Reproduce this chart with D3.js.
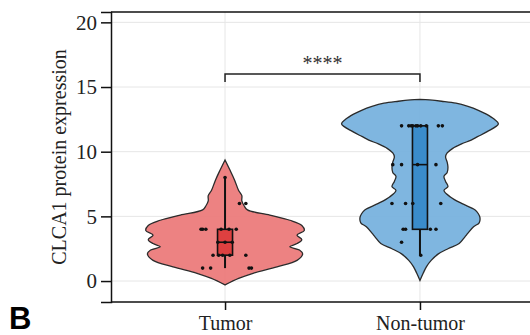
<!DOCTYPE html>
<html>
<head>
<meta charset="utf-8">
<script src="https://cdn.jsdelivr.net/npm/d3@7"></script>
<style>
  body { margin: 0; background: #fff; }
  svg { display: block; }
</style>
</head>
<body>
<script>
const width = 530, height = 335;

const groups = ["Tumor", "Non-tumor"];
const yTicks = [0, 5, 10, 15, 20];
const signif = "****";

// violin outlines: [value, relative density]
const tumorDensity = [
  [-0.3, 0], [0.2, 0.17], [0.6, 0.35], [1.1, 0.65], [1.6, 0.9], [2.1, 0.97],
  [2.4, 0.93], [2.65, 0.81], [2.9, 0.9], [3.2, 0.96], [3.55, 0.9], [3.9, 0.99],
  [4.3, 0.96], [4.7, 0.81], [5.1, 0.56], [5.5, 0.28], [5.8, 0.24], [6.2, 0.21],
  [6.6, 0.21], [7.0, 0.17], [7.8, 0.12], [8.6, 0.06], [9.36, 0]
];
const normalDensity = [
  [0.05, 0], [0.6, 0.04], [1.1, 0.08], [1.6, 0.14], [2.1, 0.23], [2.5, 0.35],
  [2.9, 0.49], [3.4, 0.56], [3.7, 0.6], [4.2, 0.67], [4.5, 0.74], [4.9, 0.75],
  [5.2, 0.73], [5.5, 0.69], [6.0, 0.52], [6.5, 0.38], [7.0, 0.3], [7.3, 0.35],
  [7.7, 0.32], [8.1, 0.3], [8.4, 0.34], [8.8, 0.35], [9.2, 0.34], [9.6, 0.32],
  [9.9, 0.34], [10.26, 0.41], [10.6, 0.52], [10.9, 0.64], [11.16, 0.72],
  [11.55, 0.84], [12.15, 0.98], [12.5, 0.93], [12.9, 0.83], [13.2, 0.73],
  [13.5, 0.6], [13.75, 0.45], [13.9, 0.27], [14.0, 0.12], [14.05, 0]
];

// box stats
const tumorBox = { lo: 1, q1: 2, med: 3, q3: 4, hi: 8 };
const normalBox = { lo: 2, q1: 4, med: 9, q3: 12, hi: 12 };

// jittered points: [value, offset in density units]
const tumorPoints = [
  [8, 0], [6, 0.18], [6, 0.26],
  [4, -0.3], [4, -0.28], [4, -0.24], [4, -0.05], [4, 0.05], [4, 0.14],
  [3, -0.09], [3, 0], [3, 0.09],
  [2, -0.15], [2, -0.08], [2, -0.03], [2, 0.06], [2, 0.26],
  [1, -0.28], [1, -0.18], [1, 0.3], [1, 0.33]
];
const normalPoints = [
  [12, -0.23], [12, -0.14], [12, -0.11], [12, -0.09], [12, -0.05], [12, -0.03],
  [12, 0.01], [12, 0.08], [12, 0.23], [12, 0.28],
  [9, -0.34], [9, -0.23], [9, -0.03], [9, 0.2],
  [6, -0.35], [6, -0.18], [6, -0.09], [6, 0.26],
  [4, -0.21], [4, -0.18], [4, 0.13], [4, 0.2],
  [3, -0.23], [2, 0.01]
];

const series = [
  { name: groups[0], density: tumorDensity, box: tumorBox, points: tumorPoints,
    fill: "#ec7777", boxFill: "#de4040" },
  { name: groups[1], density: normalDensity, box: normalBox, points: normalPoints,
    fill: "#74b0dd", boxFill: "#3a8ccb" }
];

const margin = { top: 12, right: -4, bottom: 33, left: 111 };

const x = d3.scalePoint()
  .domain(groups)
  .range([margin.left, width - margin.right])
  .padding(0.585);

const y = d3.scaleLinear()
  .domain([-1.62, 20.8])
  .range([height - margin.bottom, margin.top]);

const w = d3.scaleLinear().domain([0, 1]).range([0, 80]);

const svg = d3.select("body").append("svg")
  .attr("width", width)
  .attr("height", height)
  .attr("viewBox", [0, 0, width, height]);

const serif = "'Liberation Serif', 'Times New Roman', serif";

// grid
svg.append("g")
  .attr("stroke", "#e6e6e6")
  .attr("stroke-width", 1)
  .call(g => g.selectAll(".h").data(yTicks).join("line")
    .attr("x1", margin.left).attr("x2", width)
    .attr("y1", d => y(d)).attr("y2", d => y(d)))
  .call(g => g.selectAll(".v").data(groups).join("line")
    .attr("x1", d => x(d)).attr("x2", d => x(d))
    .attr("y1", margin.top).attr("y2", height - margin.bottom));

const area = d3.area()
  .curve(d3.curveCatmullRom.alpha(0.5))
  .y(d => y(d[0]));

series.forEach(s => {
  const cx = x(s.name);
  const g = svg.append("g");

  g.append("path")
    .datum(s.density)
    .attr("d", area.x0(d => cx - w(d[1])).x1(d => cx + w(d[1])))
    .attr("fill", s.fill)
    .attr("fill-opacity", 0.92)
    .attr("stroke", "#2b2b2b")
    .attr("stroke-width", 1.3);

  const bw = 15, b = s.box;
  g.append("line")
    .attr("x1", cx).attr("x2", cx)
    .attr("y1", y(b.lo)).attr("y2", y(b.hi))
    .attr("stroke", "#111").attr("stroke-width", 2);
  g.append("rect")
    .attr("x", cx - bw / 2).attr("width", bw)
    .attr("y", y(b.q3)).attr("height", y(b.q1) - y(b.q3))
    .attr("fill", s.boxFill)
    .attr("stroke", "#111").attr("stroke-width", 1.6);
  g.append("line")
    .attr("x1", cx - bw / 2).attr("x2", cx + bw / 2)
    .attr("y1", y(b.med)).attr("y2", y(b.med))
    .attr("stroke", "#111").attr("stroke-width", 1.6);

  g.selectAll("circle").data(s.points).join("circle")
    .attr("cx", d => cx + (d[1] < 0 ? -w(-d[1]) : w(d[1])))
    .attr("cy", d => y(d[0]))
    .attr("r", 1.8)
    .attr("fill", "#111");
});

// frame top line
svg.append("line")
  .attr("x1", margin.left).attr("x2", width)
  .attr("y1", margin.top).attr("y2", margin.top)
  .attr("stroke", "#111").attr("stroke-width", 1.5);

const yAxis = g => g
  .attr("transform", `translate(${margin.left},0)`)
  .call(d3.axisLeft(y).tickValues(yTicks).tickSize(10).tickSizeOuter(10).tickPadding(4))
  .call(g => g.selectAll("path, line").attr("stroke", "#111").attr("stroke-width", 1.5))
  .call(g => g.selectAll("text")
    .attr("font-family", serif).attr("font-size", 21).attr("fill", "#222"));

const xAxis = g => g
  .attr("transform", `translate(0,${height - margin.bottom})`)
  .call(d3.axisBottom(x).tickSize(8).tickSizeOuter(0).tickPadding(6))
  .call(g => g.select(".domain").attr("d", `M${margin.left},0H${width}`))
  .call(g => g.selectAll("path, line").attr("stroke", "#111").attr("stroke-width", 1.5))
  .call(g => g.selectAll("text")
    .attr("font-family", serif).attr("font-size", 20).attr("fill", "#222"));

svg.append("g").call(xAxis);
svg.append("g").call(yAxis);

svg.append("text")
  .attr("transform", `translate(66,157) rotate(-90)`)
  .attr("text-anchor", "middle")
  .attr("font-family", serif)
  .attr("font-size", 20)
  .attr("fill", "#222")
  .text("CLCA1 protein expression");

// significance bracket
const by = 74;
svg.append("path")
  .attr("d", `M${x(groups[0])},${by + 8}V${by}H${x(groups[1])}V${by + 8}`)
  .attr("fill", "none")
  .attr("stroke", "#222")
  .attr("stroke-width", 1.5);
svg.append("text")
  .attr("x", (x(groups[0]) + x(groups[1])) / 2)
  .attr("y", by - 4)
  .attr("text-anchor", "middle")
  .attr("font-family", serif)
  .attr("font-size", 20)
  .attr("fill", "#333")
  .text(signif);

svg.append("text")
  .attr("x", 9)
  .attr("y", 329)
  .attr("font-family", "'Liberation Sans', Arial, sans-serif")
  .attr("font-weight", "bold")
  .attr("font-size", 31)
  .attr("fill", "#000")
  .text("B");
</script>
</body>
</html>
